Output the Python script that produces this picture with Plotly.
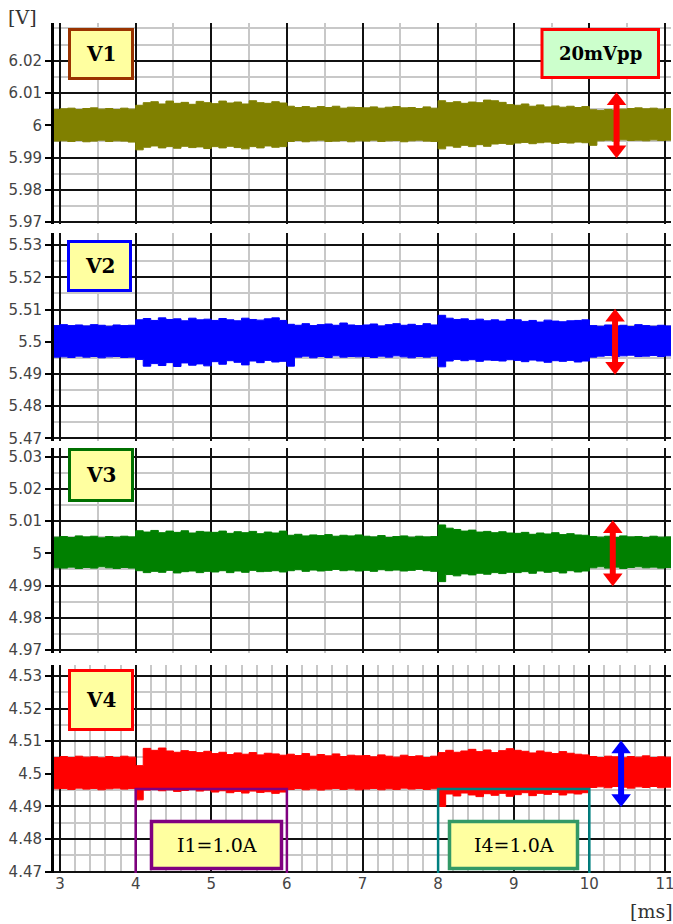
import plotly.graph_objects as go

# ---------------- data ----------------
TIME_MS = [2.92,
           3.0, 3.1, 3.2, 3.3, 3.4, 3.5, 3.6, 3.7, 3.8, 3.9,
           4.0, 4.1, 4.2, 4.3, 4.4, 4.5, 4.6, 4.7, 4.8, 4.9,
           5.0, 5.1, 5.2, 5.3, 5.4, 5.5, 5.6, 5.7, 5.8, 5.9,
           6.0, 6.1, 6.2, 6.3, 6.4, 6.5, 6.6, 6.7, 6.8, 6.9,
           7.0, 7.1, 7.2, 7.3, 7.4, 7.5, 7.6, 7.7, 7.8, 7.9,
           8.0, 8.1, 8.2, 8.3, 8.4, 8.5, 8.6, 8.7, 8.8, 8.9,
           9.0, 9.1, 9.2, 9.3, 9.4, 9.5, 9.6, 9.7, 9.8, 9.9,
           10.0, 10.1, 10.2, 10.3, 10.4, 10.5, 10.6, 10.7, 10.8, 10.9, 11.0]
TIME_END = 11.08

SERIES_NAMES = ["V1", "V2", "V3", "V4"]
NOMINAL_V = [6.0, 5.5, 5.0, 4.5]

# noise envelope, deviation from nominal in mV
V1_UPPER_MV = [4.9,
               5.1, 5.3, 4.9, 5.2, 5.4, 5.0, 5.2, 4.9, 5.3, 5.0,
               6.2, 7.0, 7.3, 6.6, 7.5, 6.8, 7.1, 6.5, 7.4, 7.0,
               6.7, 7.5, 6.9, 7.2, 6.6, 7.6, 7.0, 6.8, 7.3, 6.9,
               5.9, 5.5, 5.8, 5.4, 5.8, 5.5, 5.9, 5.3, 5.6, 5.5,
               5.4, 5.7, 5.3, 5.6, 5.8, 5.4, 5.5, 5.2, 5.7, 5.3,
               7.6, 7.0, 7.3, 6.8, 7.2, 7.0, 7.8, 7.6, 7.1, 6.4,
               6.2, 6.6, 5.9, 6.3, 5.7, 6.0, 5.6, 5.9, 5.5, 5.8,
               4.8, 4.6, 4.9, 4.7, 5.0, 5.2, 5.4, 5.1, 5.3, 5.0, 5.2]
V1_LOWER_MV = [-4.9,
               -4.8, -5.0, -4.7, -5.1, -4.9, -4.6, -5.0, -4.8, -4.9, -5.2,
               -7.6, -6.8, -6.4, -7.0, -6.6, -7.1, -6.5, -6.9, -6.7, -7.2,
               -6.6, -7.0, -6.5, -6.9, -7.3, -6.6, -7.0, -6.4, -6.8, -6.6,
               -5.0, -4.7, -5.1, -4.8, -4.6, -5.0, -4.9, -4.7, -5.1, -4.8,
               -4.9, -4.6, -5.0, -4.8, -4.7, -5.1, -4.8, -4.6, -4.9, -5.0,
               -7.3, -6.4, -6.8, -6.2, -6.6, -6.0, -6.5, -5.8, -5.6, -5.9,
               -5.5, -5.3, -5.7, -5.4, -5.2, -5.6, -5.3, -5.5, -5.2, -5.4,
               -6.2, -4.8, -4.6, -4.9, -4.5, -4.7, -4.6, -4.8, -4.5, -4.7, -4.6]

V2_UPPER_MV = [5.0,
               5.3, 5.0, 5.2, 4.9, 5.3, 5.1, 4.8, 5.2, 5.0, 5.1,
               6.8, 7.2, 6.6, 7.4, 6.9, 7.1, 6.5, 7.3, 6.8, 7.0,
               6.6, 7.2, 6.8, 6.5, 7.3, 6.9, 6.7, 7.1, 7.4, 6.6,
               5.4, 5.1, 5.6, 5.0, 5.3, 5.5, 5.1, 5.8, 5.2, 5.0,
               5.2, 5.5, 4.9, 5.3, 5.6, 5.1, 5.4, 5.0, 5.6, 5.2,
               8.2, 7.3, 6.9, 7.1, 6.6, 7.0, 6.5, 6.8, 6.4, 6.9,
               6.8, 6.3, 6.6, 6.1, 6.7, 6.4, 6.2, 6.5, 6.6, 6.8,
               5.0, 4.8, 5.2, 4.9, 5.1, 4.7, 5.3, 5.0, 4.8, 5.1, 4.9]
V2_LOWER_MV = [-4.8,
               -4.7, -4.9, -4.5, -4.8, -4.6, -5.0, -4.7, -4.6, -4.9, -4.8,
               -5.5, -7.6, -6.8, -7.4, -6.5, -7.7, -6.6, -7.3, -6.9, -7.5,
               -6.2, -7.0, -5.9, -6.4, -7.2, -6.0, -6.5, -5.8, -6.3, -6.1,
               -7.6, -4.8, -4.5, -5.0, -4.6, -4.9, -4.4, -4.8, -4.6, -4.7,
               -4.6, -4.9, -4.5, -4.8, -4.4, -4.7, -5.0, -4.6, -4.8, -4.5,
               -7.8, -6.0, -5.5, -5.9, -5.6, -6.1, -5.7, -5.8, -6.0, -5.6,
               -5.8, -6.2, -5.7, -6.0, -6.4, -5.9, -6.1, -5.8, -6.3, -6.0,
               -4.8, -4.5, -4.3, -4.6, -4.4, -4.2, -4.6, -4.5, -4.3, -4.6, -4.4]

V3_UPPER_MV = [5.0,
               5.2, 4.9, 5.4, 5.1, 5.3, 4.8, 5.2, 5.0, 5.3, 5.1,
               7.0, 6.6, 7.1, 6.4, 6.9, 6.5, 7.0, 6.3, 6.8, 6.6,
               6.5, 6.9, 6.2, 6.7, 6.4, 6.8, 6.1, 6.6, 6.3, 6.9,
               5.6, 5.9, 5.4, 5.7, 5.5, 5.8, 5.3, 5.6, 5.4, 5.7,
               5.3, 5.1, 5.5, 4.9, 5.2, 5.4, 5.0, 5.3, 5.1, 5.2,
               8.8, 7.8, 7.4, 6.9, 7.2, 6.6, 6.8, 6.4, 6.7, 6.3,
               6.2, 6.5, 5.9, 6.3, 6.0, 6.4, 5.8, 6.1, 5.7, 5.6,
               5.2, 5.0, 5.3, 4.9, 5.4, 5.1, 5.2, 4.9, 5.3, 5.0, 5.1]
V3_LOWER_MV = [-4.5,
               -4.6, -4.3, -4.7, -4.4, -4.6, -4.2, -4.5, -4.7, -4.4, -4.6,
               -5.4, -6.0, -5.6, -5.9, -5.3, -6.1, -5.7, -5.5, -6.0, -5.6,
               -5.8, -5.4, -6.0, -5.5, -5.9, -5.3, -5.7, -5.6, -5.4, -5.8,
               -5.4, -5.1, -5.6, -5.2, -5.5, -5.3, -5.0, -5.4, -5.2, -5.5,
               -5.3, -5.6, -5.1, -5.4, -5.2, -5.5, -5.3, -5.0, -5.4, -5.6,
               -8.8, -6.6, -7.0, -6.4, -6.7, -6.2, -6.5, -6.0, -6.3, -5.9,
               -6.0, -5.7, -6.2, -5.5, -5.9, -5.6, -6.1, -5.4, -5.8, -5.5,
               -4.5, -4.2, -4.6, -4.3, -4.7, -4.4, -4.2, -4.5, -4.3, -4.6, -4.4]

V4_UPPER_MV = [5.0,
               5.3, 5.0, 5.4, 5.1, 5.2, 4.9, 5.3, 5.0, 5.4, 5.1,
               2.5, 7.8, 7.2, 7.9, 7.0, 6.6, 7.1, 6.8, 6.5, 6.9,
               6.2, 6.6, 5.9, 6.4, 6.0, 6.5, 5.8, 6.3, 6.1, 5.7,
               6.0, 5.6, 6.2, 5.4, 5.9, 5.5, 6.1, 5.3, 5.7, 5.5,
               5.6, 5.2, 5.8, 5.4, 5.1, 5.7, 5.3, 5.5, 5.0, 5.4,
               6.5, 7.2, 6.6, 7.0, 7.5, 6.8, 7.3, 6.5, 7.1, 7.7,
               7.2, 6.9, 6.4, 7.0, 6.6, 6.2, 6.8, 6.3, 6.0, 5.8,
               5.3, 5.0, 5.4, 5.2, 4.9, 5.3, 5.1, 5.5, 5.0, 5.2, 5.1]
V4_LOWER_MV = [-4.6,
               -4.5, -4.8, -4.4, -4.7, -4.5, -4.9, -4.6, -4.4, -4.7, -4.5,
               -8.0, -5.0, -4.7, -5.2, -4.9, -5.4, -5.1, -4.8, -5.3, -5.0,
               -5.6, -5.2, -5.8, -5.4, -5.9, -5.3, -5.7, -5.5, -6.0, -5.6,
               -4.8, -4.5, -4.9, -4.6, -5.0, -4.7, -4.5, -4.8, -4.6, -4.9,
               -4.7, -4.5, -4.9, -4.6, -4.8, -4.4, -4.7, -4.5, -4.8, -4.6,
               -10.0, -6.2, -6.8, -5.9, -6.5, -7.0, -6.1, -6.6, -6.0, -6.9,
               -6.4, -5.8, -6.7, -6.0, -6.3, -5.7, -6.5, -5.9, -6.2, -5.8,
               -4.2, -4.0, -4.3, -3.9, -4.1, -4.4, -4.0, -4.2, -3.9, -4.3, -4.1]

UPPER_MV = [V1_UPPER_MV, V2_UPPER_MV, V3_UPPER_MV, V4_UPPER_MV]
LOWER_MV = [V1_LOWER_MV, V2_LOWER_MV, V3_LOWER_MV, V4_LOWER_MV]

PP_MV = 20                      # the "20mVpp" measurement arrows
ARROW_X_MS = [10.36, 10.34, 10.31, 10.42]

X_TICKS = [3, 4, 5, 6, 7, 8, 9, 10, 11]
X_TICKLABELS = ["3", "4", "5", "6", "7", "8", "9", "10", "11"]

Y_TICKS = [
    [5.97, 5.98, 5.99, 6.0, 6.01, 6.02],
    [5.47, 5.48, 5.49, 5.5, 5.51, 5.52, 5.53],
    [4.97, 4.98, 4.99, 5.0, 5.01, 5.02, 5.03],
    [4.47, 4.48, 4.49, 4.5, 4.51, 4.52, 4.53],
]
Y_TICKLABELS = [
    ["5.97", "5.98", "5.99", "6", "6.01", "6.02"],
    ["5.47", "5.48", "5.49", "5.5", "5.51", "5.52", "5.53"],
    ["4.97", "4.98", "4.99", "5", "5.01", "5.02", "5.03"],
    ["4.47", "4.48", "4.49", "4.5", "4.51", "4.52", "4.53"],
]

LOAD_LABELS = ["I1=1.0A", "I4=1.0A"]
LOAD_START_MS = [4, 8]
LOAD_END_MS = [6, 10]

# ---------------- styling ----------------
W, H = 673, 924
ML, MR, MT, MB = 54, 2, 23, 51
PW, PH = W - ML - MR, H - MT - MB

COLORS = ["#808000", "#0000ff", "#008000", "#ff0000"]
BOX_BORDER = ["#993300", "#0000ff", "#007000", "#ff0000"]
ARROW_COLORS = ["#ff0000", "#ff0000", "#ff0000", "#0000ff"]
BRACKET_COLORS = ["#800080", "#008080"]
LOADBOX_BORDER = ["#800080", "#339966"]

# panel pixel extents (top, bottom) and y ranges
PANEL_PX = [(23, 224), (233, 441), (448, 653), (665, 873)]
Y_RANGES = [(5.96944, 6.03167), (5.46916, 5.53376), (4.96904, 5.0327), (4.46957, 4.53337)]
X_RANGE = (2.92, 11.08)
X_MINOR = [0.5, 0.5, 0.5, 0.2]


def px_x(p):
    return (p - ML) / PW


def px_y(p):
    return (H - MB - p) / PH


MAJOR = "#111111"
MINOR = "#c8c8c8"
SERIF = "DejaVu Serif, Liberation Serif, serif"
SANS = "DejaVu Sans, Liberation Sans, sans-serif"
TICKFONT = dict(family=SANS, size=15, color="#444444")

fig = go.Figure()

for i in range(4):
    xa = "x" if i == 0 else f"x{i+1}"
    ya = "y" if i == 0 else f"y{i+1}"
    c = NOMINAL_V[i]
    xs = TIME_MS + [TIME_END]
    lo = [c + v / 1000 for v in LOWER_MV[i]]
    hi = [c + v / 1000 for v in UPPER_MV[i]]
    lo = lo + [lo[-1]]
    hi = hi + [hi[-1]]
    fig.add_trace(go.Scatter(x=xs, y=lo, xaxis=xa, yaxis=ya, mode="lines",
                             line=dict(color=COLORS[i], width=1, shape="hv"),
                             hoverinfo="skip", showlegend=False))
    fig.add_trace(go.Scatter(x=xs, y=hi, xaxis=xa, yaxis=ya, mode="lines",
                             line=dict(color=COLORS[i], width=1, shape="hv"),
                             fill="tonexty", fillcolor=COLORS[i],
                             name=SERIES_NAMES[i], hoverinfo="skip", showlegend=False))

# axes
for i in range(4):
    top, bot = PANEL_PX[i]
    xkey = "xaxis" if i == 0 else f"xaxis{i+1}"
    ykey = "yaxis" if i == 0 else f"yaxis{i+1}"
    yanchor = "y" if i == 0 else f"y{i+1}"
    xanchor = "x" if i == 0 else f"x{i+1}"
    fig.update_layout(**{
        xkey: dict(domain=[0, 1], anchor=yanchor, range=list(X_RANGE),
                   tickmode="array", tickvals=X_TICKS, ticktext=X_TICKLABELS,
                   showticklabels=(i == 3), ticks="", ticklabeloverflow="allow",
                   showgrid=True, gridcolor=MAJOR, gridwidth=1.6,
                   zeroline=False, showline=False, automargin=False,
                   tickfont=TICKFONT,
                   minor=dict(tickmode="linear", tick0=3, dtick=X_MINOR[i],
                              showgrid=True, gridcolor=MINOR, gridwidth=1.6, ticks=""),
                   **({} if i == 0 else {"matches": "x"})),
        ykey: dict(domain=[px_y(bot), px_y(top)], anchor=xanchor,
                   range=list(Y_RANGES[i]),
                   tickmode="array", tickvals=Y_TICKS[i], ticktext=Y_TICKLABELS[i],
                   ticks="outside", ticklen=6, tickwidth=1.5, tickcolor="#000000",
                   ticklabeloverflow="allow",
                   showgrid=True, gridcolor=MAJOR, gridwidth=1.6,
                   zeroline=False, showline=True, linewidth=3, linecolor="#000000",
                   automargin=False, tickfont=TICKFONT,
                   minor=dict(tickmode="linear", tick0=NOMINAL_V[i], dtick=0.005,
                              showgrid=True, gridcolor=MINOR, gridwidth=1.6, ticks=""))
    })

# 20mVpp arrows
for i in range(4):
    xa = "x" if i == 0 else f"x{i+1}"
    ya = "y" if i == 0 else f"y{i+1}"
    c = NOMINAL_V[i]
    half = PP_MV / 2000
    ax = ARROW_X_MS[i]
    fig.add_trace(go.Scatter(x=[ax, ax], y=[c - half * 0.72, c + half * 0.72],
                             xaxis=xa, yaxis=ya, mode="lines",
                             line=dict(color=ARROW_COLORS[i], width=6),
                             hoverinfo="skip", showlegend=False))
    fig.add_trace(go.Scatter(x=[ax, ax], y=[c + half * 0.76, c - half * 0.76],
                             xaxis=xa, yaxis=ya, mode="markers",
                             marker=dict(symbol=["triangle-up", "triangle-down"], size=17,
                                         color=ARROW_COLORS[i], line=dict(width=0)),
                             hoverinfo="skip", showlegend=False))

shapes = []
annotations = []

# label boxes (pixel extents)
LABEL_BOX_PX = [(69.5, 132.5, 29.5, 78.5), (68.5, 130.5, 241.5, 290.5),
                (69.5, 132.5, 449.5, 500.5), (69.5, 132.5, 670.5, 729.5)]
for i, (x0, x1, y0, y1) in enumerate(LABEL_BOX_PX):
    shapes.append(dict(type="rect", xref="paper", yref="paper",
                       x0=px_x(x0), x1=px_x(x1), y0=px_y(y1), y1=px_y(y0),
                       fillcolor="#ffffa0", line=dict(color=BOX_BORDER[i], width=3),
                       layer="above"))
    annotations.append(dict(xref="paper", yref="paper", x=px_x((x0 + x1) / 2),
                            y=px_y((y0 + y1) / 2), text=f"<b>{SERIES_NAMES[i]}</b>",
                            showarrow=False, xanchor="center", yanchor="middle",
                            font=dict(family=SERIF, size=20, color="#000000")))

# 20mVpp box
x0, x1, y0, y1 = 542, 658.5, 29.5, 77.5
shapes.append(dict(type="rect", xref="paper", yref="paper",
                   x0=px_x(x0), x1=px_x(x1), y0=px_y(y1), y1=px_y(y0),
                   fillcolor="#ccffcc", line=dict(color="#ff0000", width=3), layer="above"))
annotations.append(dict(xref="paper", yref="paper", x=px_x((x0 + x1) / 2),
                        y=px_y((y0 + y1) / 2), text=f"<b>{PP_MV}mVpp</b>", showarrow=False,
                        xanchor="center", yanchor="middle",
                        font=dict(family=SERIF, size=18, color="#000000")))

# load step brackets (panel 4 data coordinates)
BRACKET_Y = 4.4953
for k in range(2):
    xs0, xs1 = LOAD_START_MS[k], LOAD_END_MS[k]
    yb = Y_RANGES[3][0]
    shapes.append(dict(type="path", xref="x4", yref="y4",
                       path=f"M {xs0},{yb} L {xs0},{BRACKET_Y} L {xs1},{BRACKET_Y} L {xs1},{yb}",
                       line=dict(color=BRACKET_COLORS[k], width=2.5), layer="above"))

LOAD_BOX_PX = [(151.5, 281.5, 821.5, 868.5), (449.5, 577.5, 821.5, 868.5)]
for k, (x0, x1, y0, y1) in enumerate(LOAD_BOX_PX):
    shapes.append(dict(type="rect", xref="paper", yref="paper",
                       x0=px_x(x0), x1=px_x(x1), y0=px_y(y1), y1=px_y(y0),
                       fillcolor="#ffffa0", line=dict(color=LOADBOX_BORDER[k], width=3.5),
                       layer="above"))
    annotations.append(dict(xref="paper", yref="paper", x=px_x((x0 + x1) / 2),
                            y=px_y((y0 + y1) / 2), text=LOAD_LABELS[k], showarrow=False,
                            xanchor="center", yanchor="middle",
                            font=dict(family=SERIF, size=19, color="#000000")))

# unit labels
annotations.append(dict(xref="paper", yref="paper", x=px_x(22), y=px_y(17), text="[V]",
                        showarrow=False, xanchor="center", yanchor="middle",
                        font=dict(family=SERIF, size=19, color="#333333")))
annotations.append(dict(xref="paper", yref="paper", x=px_x(651), y=px_y(911), text="[ms]",
                        showarrow=False, xanchor="center", yanchor="middle",
                        font=dict(family=SERIF, size=19, color="#333333")))

fig.update_layout(width=W, height=H,
                  margin=dict(l=ML, r=MR, t=MT, b=MB, pad=0, autoexpand=False),
                  paper_bgcolor="#ffffff", plot_bgcolor="#ffffff",
                  shapes=shapes, annotations=annotations, showlegend=False)

fig.write_html("out.html", config={"displayModeBar": False},
               post_script="document.body.style.margin='0px';document.body.style.padding='0px';")
